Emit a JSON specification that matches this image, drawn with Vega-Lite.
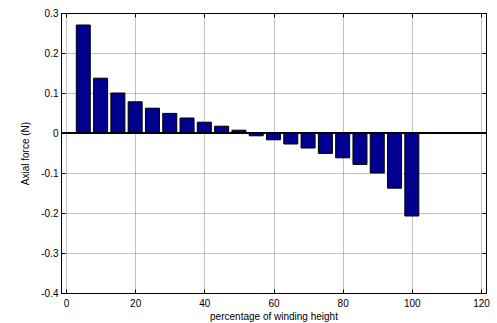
{
  "$schema": "https://vega.github.io/schema/vega-lite/v6.json",
  "autosize": {"type": "none"},
  "width": 425,
  "height": 280,
  "padding": {"left": 61, "top": 13, "right": 11, "bottom": 30},
  "background": "white",
  "config": {
    "font": "Liberation Sans",
    "view": {"stroke": "black", "strokeWidth": 1},
    "axis": {
      "labelFont": "Liberation Sans",
      "titleFont": "Liberation Sans",
      "labelFontSize": 10,
      "titleFontSize": 10,
      "titleFontWeight": "normal",
      "labelColor": "black",
      "titleColor": "black",
      "domainColor": "black",
      "tickColor": "black",
      "gridColor": "#666666",
      "gridDash": [1, 1],
      "gridWidth": 0.8
    }
  },
  "data": {
    "values": [
      {"pct": 5, "force": 0.27},
      {"pct": 10, "force": 0.137},
      {"pct": 15, "force": 0.1},
      {"pct": 20, "force": 0.078},
      {"pct": 25, "force": 0.062},
      {"pct": 30, "force": 0.049},
      {"pct": 35, "force": 0.0375},
      {"pct": 40, "force": 0.027},
      {"pct": 45, "force": 0.017},
      {"pct": 50, "force": 0.007},
      {"pct": 55, "force": -0.007},
      {"pct": 60, "force": -0.017},
      {"pct": 65, "force": -0.0275},
      {"pct": 70, "force": -0.0375},
      {"pct": 75, "force": -0.051},
      {"pct": 80, "force": -0.062},
      {"pct": 85, "force": -0.0785},
      {"pct": 90, "force": -0.1},
      {"pct": 95, "force": -0.138},
      {"pct": 100, "force": -0.2075}
    ]
  },
  "layer": [
    {
      "mark": {"type": "bar", "size": 14, "fill": "#000090", "stroke": "black", "strokeWidth": 1, "clip": true},
      "encoding": {
        "x": {
          "field": "pct", "type": "quantitative",
          "scale": {"domain": [0, 120], "nice": false, "zero": false},
          "axis": {
            "title": "percentage of winding height",
            "values": [0, 20, 40, 60, 80, 100, 120],
            "tickSize": -4,
            "labelPadding": 9,
            "titlePadding": 3,
            "grid": true,
            "orient": "bottom"
          }
        },
        "y": {
          "field": "force", "type": "quantitative",
          "scale": {"domain": [-0.4, 0.3], "nice": false, "zero": false},
          "axis": {
            "title": "Axial force (N)",
            "values": [-0.4, -0.3, -0.2, -0.1, 0, 0.1, 0.2, 0.3],
            "format": ".1~f",
            "labelExpr": "replace(datum.label, '\u2212', '-')",
            "tickSize": -4,
            "labelPadding": 7,
            "titlePadding": 10,
            "grid": true,
            "orient": "left"
          }
        },
        "y2": {"datum": 0}
      }
    },
    {
      "mark": {"type": "rule", "color": "black", "strokeWidth": 1},
      "encoding": {"y": {"datum": 0, "type": "quantitative", "axis": null}}
    },
    {
      "mark": {"type": "point", "opacity": 0},
      "encoding": {
        "x": {
          "field": "pct", "type": "quantitative",
          "scale": {"domain": [0, 120], "nice": false, "zero": false},
          "axis": {"orient": "top", "title": null, "labels": false, "grid": false, "values": [0, 20, 40, 60, 80, 100, 120], "tickSize": -4}
        },
        "y": {
          "field": "force", "type": "quantitative",
          "scale": {"domain": [-0.4, 0.3], "nice": false, "zero": false},
          "axis": {"orient": "right", "title": null, "labels": false, "grid": false, "values": [-0.4, -0.3, -0.2, -0.1, 0, 0.1, 0.2, 0.3], "tickSize": -4}
        }
      }
    }
  ],
  "resolve": {"axis": {"x": "independent", "y": "independent"}}
}
